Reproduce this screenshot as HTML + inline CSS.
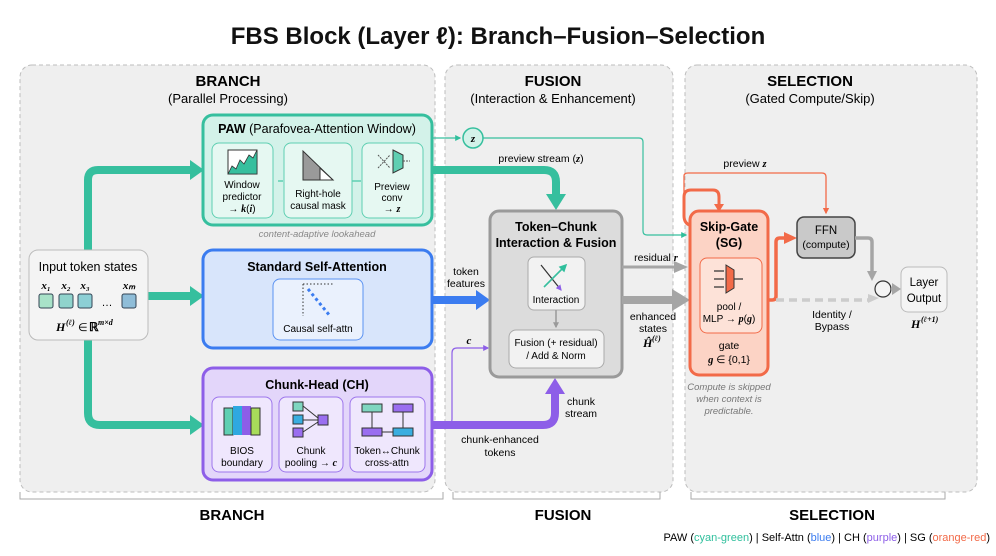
<!DOCTYPE html>
<html><head><meta charset="utf-8"><style>
body{margin:0;background:#fff;}
svg{display:block;font-family:"Liberation Sans",sans-serif;}
.m{font-family:"Liberation Serif",serif;font-style:italic;font-weight:bold;}
</style></head><body>
<svg width="996" height="556" viewBox="0 0 996 556" xmlns="http://www.w3.org/2000/svg">
<defs>
<marker id="at" viewBox="0 0 10 10" refX="8" refY="5" markerWidth="5" markerHeight="5" orient="auto"><path d="M0,0L10,5L0,10z" fill="#2fbf9c"/></marker>
<marker id="ag" viewBox="0 0 10 10" refX="8" refY="5" markerWidth="4" markerHeight="4" orient="auto"><path d="M0,0L10,5L0,10z" fill="#9a9a9a"/></marker>
<marker id="ao" viewBox="0 0 10 10" refX="8" refY="5" markerWidth="5" markerHeight="5" orient="auto"><path d="M0,0L10,5L0,10z" fill="#f26a48"/></marker>
<marker id="ap" viewBox="0 0 10 10" refX="8" refY="5" markerWidth="5" markerHeight="5" orient="auto"><path d="M0,0L10,5L0,10z" fill="#8d5ee8"/></marker>
</defs>
<text x="498" y="44" text-anchor="middle" font-size="24" font-weight="bold" fill="#111">FBS Block (Layer ℓ): Branch–Fusion–Selection</text>

<rect x="20" y="65" width="415" height="427" rx="12" fill="#efefef" stroke="#bdbdbd" stroke-dasharray="4 3"/>
<rect x="445" y="65" width="228" height="427" rx="12" fill="#efefef" stroke="#bdbdbd" stroke-dasharray="4 3"/>
<rect x="685" y="65" width="292" height="427" rx="12" fill="#efefef" stroke="#bdbdbd" stroke-dasharray="4 3"/>
<path d="M20,492V499H443V492M453,492V499H660V492M691,492V499H945V492" fill="none" stroke="#aaa"/>
<text x="228" y="86" text-anchor="middle" font-size="15" font-weight="bold">BRANCH</text>
<text x="228" y="103" text-anchor="middle" font-size="13">(Parallel Processing)</text>
<text x="553" y="86" text-anchor="middle" font-size="15" font-weight="bold">FUSION</text>
<text x="553" y="103" text-anchor="middle" font-size="13">(Interaction &amp; Enhancement)</text>
<text x="810" y="86" text-anchor="middle" font-size="15" font-weight="bold">SELECTION</text>
<text x="810" y="103" text-anchor="middle" font-size="13">(Gated Compute/Skip)</text>
<text x="232" y="520" text-anchor="middle" font-size="15" font-weight="bold">BRANCH</text>
<text x="563" y="520" text-anchor="middle" font-size="15" font-weight="bold">FUSION</text>
<text x="832" y="520" text-anchor="middle" font-size="15" font-weight="bold">SELECTION</text>
<text x="990" y="541" text-anchor="end" font-size="11">PAW (<tspan fill="#2fbf9c">cyan-green</tspan>) | Self-Attn (<tspan fill="#3b7cf0">blue</tspan>) | CH (<tspan fill="#8d5ee8">purple</tspan>) | SG (<tspan fill="#f26a48">orange-red</tspan>)</text>

<path d="M88,250V180Q88,170 98,170H192" fill="none" stroke="#36bf9e" stroke-width="8"/>
<path d="M190,160L204,170L190,180z" fill="#36bf9e"/>
<path d="M148,296H192" stroke="#36bf9e" stroke-width="8"/>
<path d="M190,286L204,296L190,306z" fill="#36bf9e"/>
<path d="M88,340V413Q88,425 100,425H192" fill="none" stroke="#36bf9e" stroke-width="8"/>
<path d="M190,415L204,425L190,435z" fill="#36bf9e"/>

<rect x="29" y="250" width="119" height="90" rx="9" fill="#f4f4f4" stroke="#bbb"/>
<text x="88" y="271" text-anchor="middle" font-size="12.5">Input token states</text>
<text class="m" x="46" y="289" text-anchor="middle" font-size="11">x₁</text>
<text class="m" x="66" y="289" text-anchor="middle" font-size="11">x₂</text>
<text class="m" x="85" y="289" text-anchor="middle" font-size="11">x₃</text>
<text class="m" x="129" y="289" text-anchor="middle" font-size="11">xₘ</text>
<rect x="39" y="294" width="14" height="14" rx="2" fill="#a8e2c8" stroke="#345"/>
<rect x="59" y="294" width="14" height="14" rx="2" fill="#8fd3cc" stroke="#345"/>
<rect x="78" y="294" width="14" height="14" rx="2" fill="#8ccfd5" stroke="#345"/>
<text x="107" y="306" text-anchor="middle" font-size="11">…</text>
<rect x="122" y="294" width="14" height="14" rx="2" fill="#8fbdd8" stroke="#345"/>
<text class="m" x="56" y="331" font-size="12">H</text>
<text class="m" x="66" y="325" font-size="8">(ℓ)</text>
<text x="78" y="331" font-size="11">∈</text>
<text x="89" y="331" font-size="12" font-weight="bold">ℝ</text>
<text class="m" x="98" y="325" font-size="8">m×d</text>

<rect x="203" y="115" width="229" height="110" rx="10" fill="#d3f2e9" stroke="#36bf9e" stroke-width="3"/>
<text x="317" y="133" text-anchor="middle" font-size="12.5"><tspan font-weight="bold">PAW</tspan> (Parafovea-Attention Window)</text>
<rect x="212" y="143" width="61" height="75" rx="7" fill="#e6f8f2" stroke="#5fcfb2"/>
<rect x="284" y="143" width="68" height="75" rx="7" fill="#e6f8f2" stroke="#5fcfb2"/>
<rect x="362" y="143" width="61" height="75" rx="7" fill="#e6f8f2" stroke="#5fcfb2"/>
<rect x="228" y="150" width="29" height="24" fill="#fff" stroke="#333"/>
<path d="M228,174L232,166L236,169L240,160L244,164L249,155L253,158L257,150V174z" fill="#36bf9e" stroke="#333" stroke-width="0.8"/>
<text x="242" y="188" text-anchor="middle" font-size="10">Window</text>
<text x="242" y="200" text-anchor="middle" font-size="10">predictor</text>
<text x="242" y="212" text-anchor="middle" font-size="10">→ <tspan class="m">k</tspan>(<tspan class="m">i</tspan>)</text>
<path d="M303,151L303,180L333,180z" fill="#9a9a9a" stroke="#333"/>
<path d="M320,168L320,180L333,180z" fill="#fff" stroke="#333"/>
<text x="318" y="197" text-anchor="middle" font-size="10">Right-hole</text>
<text x="318" y="209" text-anchor="middle" font-size="10">causal mask</text>
<path d="M278,181H283M352,181H361" stroke="#5fcfb2" stroke-width="1.5"/>
<path d="M393,150L403,155V168L393,173z" fill="#5fcfb2" stroke="#333"/>
<path d="M378,155L390,168M378,168L390,155M403,161H410" stroke="#555" stroke-dasharray="2 1"/>
<text x="392" y="190" text-anchor="middle" font-size="10">Preview</text>
<text x="392" y="201" text-anchor="middle" font-size="10">conv</text>
<text x="392" y="212" text-anchor="middle" font-size="10">→ <tspan class="m">z</tspan></text>
<text x="317" y="237" text-anchor="middle" font-size="9.5" font-style="italic" fill="#888">content-adaptive lookahead</text>

<rect x="203" y="250" width="229" height="98" rx="10" fill="#d8e5fb" stroke="#3b7cf0" stroke-width="3"/>
<text x="317" y="271" text-anchor="middle" font-size="12.5" font-weight="bold">Standard Self-Attention</text>
<rect x="273" y="279" width="90" height="61" rx="7" fill="#eaf1fd" stroke="#5a92f2"/>
<path d="M303,284H333M303,284V316" stroke="#333" stroke-dasharray="1.5 2"/>
<path d="M308,289L330,316" stroke="#3b7cf0" stroke-width="3" stroke-dasharray="3 3"/>
<text x="318" y="332" text-anchor="middle" font-size="10">Causal self-attn</text>

<rect x="203" y="368" width="229" height="112" rx="10" fill="#e3d6fa" stroke="#8d5ee8" stroke-width="3"/>
<text x="317" y="389" text-anchor="middle" font-size="12.5" font-weight="bold">Chunk-Head (CH)</text>
<rect x="212" y="397" width="60" height="75" rx="7" fill="#efe7fd" stroke="#9d75ec"/>
<rect x="279" y="397" width="64" height="75" rx="7" fill="#efe7fd" stroke="#9d75ec"/>
<rect x="350" y="397" width="75" height="75" rx="7" fill="#efe7fd" stroke="#9d75ec"/>
<rect x="224" y="408" width="9" height="27" fill="#5fcfb2" stroke="#333"/>
<rect x="233" y="406" width="9" height="29" fill="#2fa8e0"/>
<rect x="242" y="406" width="9" height="29" fill="#8d5ee8"/>
<rect x="251" y="408" width="9" height="27" fill="#a8dc5a" stroke="#333"/>
<text x="242" y="454" text-anchor="middle" font-size="10">BIOS</text>
<text x="242" y="466" text-anchor="middle" font-size="10">boundary</text>
<rect x="293" y="402" width="10" height="9" fill="#7fd6c0" stroke="#333"/>
<rect x="293" y="415" width="10" height="9" fill="#3aaee0" stroke="#333"/>
<rect x="293" y="428" width="10" height="9" fill="#9a6ef0" stroke="#333"/>
<rect x="318" y="415" width="10" height="10" fill="#9a6ef0" stroke="#333"/>
<path d="M303,406L318,418M303,420H318M303,432L318,422" stroke="#333"/>
<text x="311" y="454" text-anchor="middle" font-size="10">Chunk</text>
<text x="311" y="466" text-anchor="middle" font-size="10">pooling → <tspan class="m">c</tspan></text>
<rect x="362" y="404" width="20" height="8" fill="#7fd6c0" stroke="#333"/>
<rect x="393" y="404" width="20" height="8" fill="#9a6ef0" stroke="#333"/>
<rect x="362" y="428" width="20" height="8" fill="#9a6ef0" stroke="#333"/>
<rect x="393" y="428" width="20" height="8" fill="#3aaee0" stroke="#333"/>
<path d="M372,412V428M403,412V428M382,432H393" stroke="#333"/>
<text x="387" y="454" text-anchor="middle" font-size="10">Token↔Chunk</text>
<text x="387" y="466" text-anchor="middle" font-size="10">cross-attn</text>

<path d="M432,138H460" stroke="#36bf9e" stroke-width="1.2" marker-end="url(#at)"/>
<circle cx="473" cy="138" r="10" fill="#d3f2e9" stroke="#36bf9e" stroke-width="1.5"/>
<text class="m" x="473" y="142" text-anchor="middle" font-size="11">z</text>
<path d="M483,138H639Q643,138 643,142V231Q643,235 647,235H686" fill="none" stroke="#36bf9e" stroke-width="1.2" marker-end="url(#at)"/>
<path d="M432,170H544Q556,170 556,182V196" fill="none" stroke="#36bf9e" stroke-width="8"/>
<path d="M546,194L556,210L566,194z" fill="#36bf9e"/>
<text x="541" y="162" text-anchor="middle" font-size="10.5">preview stream (<tspan class="m">z</tspan>)</text>

<path d="M432,300H478" stroke="#3b7cf0" stroke-width="8"/>
<path d="M476,290L490,300L476,310z" fill="#3b7cf0"/>
<text x="466" y="275" text-anchor="middle" font-size="10.5">token</text>
<text x="466" y="287" text-anchor="middle" font-size="10.5">features</text>

<path d="M432,425H543Q555,425 555,413V392" fill="none" stroke="#8d5ee8" stroke-width="8"/>
<path d="M545,394L555,378L565,394z" fill="#8d5ee8"/>
<path d="M432,425H446Q452,425 452,419V353Q452,348 457,348H488" fill="none" stroke="#8d5ee8" stroke-width="1.2" marker-end="url(#ap)"/>
<text class="m" x="469" y="344" text-anchor="middle" font-size="11">c</text>
<text x="581" y="405" text-anchor="middle" font-size="10.5">chunk</text>
<text x="581" y="417" text-anchor="middle" font-size="10.5">stream</text>
<text x="500" y="443" text-anchor="middle" font-size="10.5">chunk-enhanced</text>
<text x="500" y="456" text-anchor="middle" font-size="10.5">tokens</text>

<rect x="490" y="211" width="132" height="166" rx="9" fill="#dcdcdc" stroke="#9a9a9a" stroke-width="3"/>
<text x="556" y="231" text-anchor="middle" font-size="12.5" font-weight="bold">Token–Chunk</text>
<text x="556" y="247" text-anchor="middle" font-size="12.5" font-weight="bold">Interaction &amp; Fusion</text>
<rect x="528" y="257" width="57" height="53" rx="6" fill="#f2f2f2" stroke="#aaa"/>
<path d="M541,265L561,290" stroke="#333" stroke-width="1.2" marker-end="url(#ap)"/>
<path d="M544,287L566,265" stroke="#36bf9e" stroke-width="1.6" marker-end="url(#at)"/>
<text x="556" y="303" text-anchor="middle" font-size="10">Interaction</text>
<path d="M556,310V327" stroke="#9a9a9a" stroke-width="1.5" marker-end="url(#ag)"/>
<rect x="509" y="330" width="95" height="38" rx="7" fill="#f2f2f2" stroke="#aaa"/>
<text x="556" y="346" text-anchor="middle" font-size="10">Fusion (+ residual)</text>
<text x="556" y="359" text-anchor="middle" font-size="10">/ Add &amp; Norm</text>

<path d="M622,267H676" stroke="#a5a5a5" stroke-width="3"/>
<path d="M674,261L688,267L674,273z" fill="#a5a5a5"/>
<path d="M622,300H674" stroke="#a5a5a5" stroke-width="8"/>
<path d="M672,289L690,300L672,311z" fill="#a5a5a5"/>
<text x="656" y="261" text-anchor="middle" font-size="10.5">residual <tspan class="m">r</tspan></text>
<text x="653" y="320" text-anchor="middle" font-size="10.5">enhanced</text>
<text x="653" y="332" text-anchor="middle" font-size="10.5">states</text>
<text class="m" x="643" y="347" font-size="12">Ĥ</text>
<text class="m" x="652" y="341" font-size="8">(ℓ)</text>

<path d="M692,226Q684,224 684,216V197Q684,190 691,190H713Q719,190 719,197V206" fill="none" stroke="#f26a48" stroke-width="3"/>
<path d="M714,204L719,212L724,204z" fill="#f26a48"/>
<path d="M684,200V176Q684,173 688,173H822Q826,173 826,177V213" fill="none" stroke="#f26a48" stroke-width="1.3" marker-end="url(#ao)"/>
<text x="745" y="167" text-anchor="middle" font-size="10.5">preview <tspan class="m">z</tspan></text>

<rect x="690" y="211" width="78" height="164" rx="9" fill="#fcd3c5" stroke="#f26a48" stroke-width="3"/>
<text x="729" y="231" text-anchor="middle" font-size="12.5" font-weight="bold">Skip-Gate</text>
<text x="729" y="247" text-anchor="middle" font-size="12.5" font-weight="bold">(SG)</text>
<rect x="700" y="258" width="62" height="75" rx="7" fill="#fde2d8" stroke="#f26a48"/>
<path d="M726,265L734,270V288L726,293z" fill="#f26a48" stroke="#333"/>
<path d="M714,271H724M714,279H724M714,287H724M734,279H743" stroke="#333" stroke-width="1.2"/>
<text x="729" y="310" text-anchor="middle" font-size="10">pool /</text>
<text x="729" y="322" text-anchor="middle" font-size="10">MLP → <tspan class="m">p</tspan>(<tspan class="m">g</tspan>)</text>
<text x="729" y="349" text-anchor="middle" font-size="10.5">gate</text>
<text x="729" y="363" text-anchor="middle" font-size="10.5"><tspan class="m">g</tspan> ∈ {0,1}</text>
<text x="729" y="390" text-anchor="middle" font-size="9.5" font-style="italic" fill="#777">Compute is skipped</text>
<text x="729" y="402" text-anchor="middle" font-size="9.5" font-style="italic" fill="#777">when context is</text>
<text x="729" y="414" text-anchor="middle" font-size="9.5" font-style="italic" fill="#777">predictable.</text>

<path d="M768,300H772Q776,300 776,296V242Q776,238 780,238H786" fill="none" stroke="#f26a48" stroke-width="3.5"/>
<path d="M784,232L797,238L784,244z" fill="#f26a48"/>
<path d="M776,300H870" stroke="#ccc" stroke-width="3.5" stroke-dasharray="8 5"/>
<path d="M868,294L879,298L868,303z" fill="#ccc"/>
<text x="832" y="318" text-anchor="middle" font-size="10.5">Identity /</text>
<text x="832" y="330" text-anchor="middle" font-size="10.5">Bypass</text>

<rect x="797" y="217" width="58" height="41" rx="7" fill="#c9c9c9" stroke="#444" stroke-width="1.5"/>
<text x="826" y="234" text-anchor="middle" font-size="11.5">FFN</text>
<text x="826" y="248" text-anchor="middle" font-size="10.5">(compute)</text>
<path d="M855,238H868Q872,238 872,242V272" fill="none" stroke="#a5a5a5" stroke-width="3.5"/>
<path d="M867,271L872,281L877,271z" fill="#a5a5a5"/>
<circle cx="883" cy="289" r="8" fill="#f4f4f4" stroke="#333" stroke-width="1.2"/>
<path d="M891,289H895" stroke="#a5a5a5" stroke-width="3"/>
<path d="M892,283L901,289L892,295z" fill="#a5a5a5"/>
<rect x="901" y="267" width="46" height="45" rx="7" fill="#f4f4f4" stroke="#bbb"/>
<text x="924" y="286" text-anchor="middle" font-size="11.5">Layer</text>
<text x="924" y="302" text-anchor="middle" font-size="11.5">Output</text>
<text class="m" x="911" y="328" font-size="12">H</text>
<text class="m" x="921" y="322" font-size="8">(ℓ+1)</text>
</svg>
</body></html>
